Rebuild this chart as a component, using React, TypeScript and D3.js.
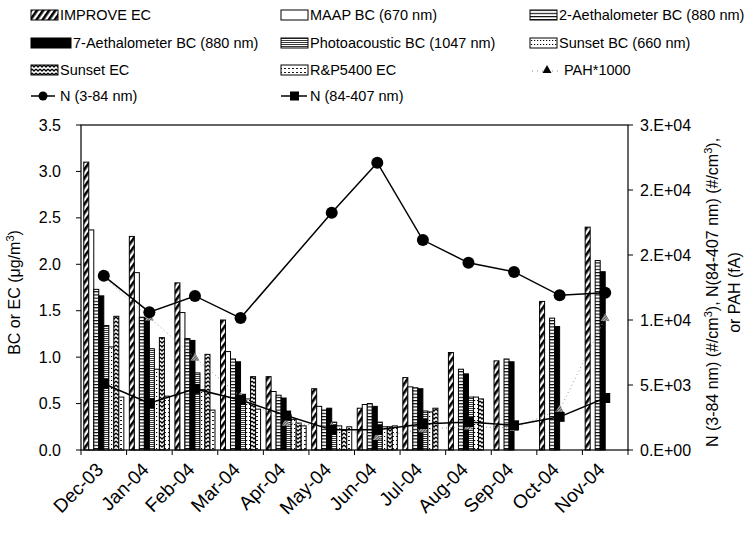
import React from 'react';
import * as d3 from 'd3';

const months = ["Dec-03","Jan-04","Feb-04","Mar-04","Apr-04","May-04","Jun-04","Jul-04","Aug-04","Sep-04","Oct-04","Nov-04"];
const improveEC = [3.10, 2.30, 1.80, 1.40, 0.79, 0.66, 0.45, 0.78, 1.05, 0.96, 1.60, 2.40];
const maapBC = [2.37, 1.91, 1.48, 1.06, 0.63, 0.47, 0.49, 0.68, null, null, null, null];
const aeth2BC = [1.73, 1.43, 1.20, 0.98, 0.59, 0.43, 0.50, 0.67, 0.87, 0.98, 1.42, 2.04];
const aeth7BC = [1.66, 1.42, 1.18, 0.95, 0.56, 0.45, 0.47, 0.66, 0.82, 0.95, 1.33, 1.92];
const photoBC = [1.34, 1.09, 0.83, 0.60, 0.38, 0.30, 0.30, 0.42, 0.57, null, null, null];
const sunsetBC = [1.11, 0.87, 0.65, 0.55, 0.33, 0.26, 0.25, 0.41, 0.57, null, null, null];
const sunsetEC = [1.44, 1.21, 1.03, 0.79, 0.29, 0.21, 0.25, 0.45, 0.55, null, null, null];
const rpEC = [0.57, 0.58, 0.43, 0.44, 0.26, 0.25, 0.26, null, null, null, null, null];

const n3to84 = [13400, 10600, 11850, 10150, null, 18250, 22100, 16150, 14400, 13700, 11900, 12100];
const n84to407 = [5100, 3600, 4700, 3850, 2650, 1550, 1550, 2000, 2150, 1900, 2550, 4000];
const pah1000 = [13300, 10200, 7100, 4100, 2100, 1800, 1000, 1600, 1800, 1700, 3100, 10150];

const leftTicks = [0, 0.5, 1.0, 1.5, 2.0, 2.5, 3.0, 3.5];
const rightTicks = [0, 5000, 10000, 15000, 20000, 25000];
const rightTickLabels = ["0.E+00", "5.E+03", "1.E+04", "2.E+04", "2.E+04", "3.E+04"];

const barNames = ["IMPROVE EC", "MAAP BC (670 nm)", "2-Aethalometer BC (880 nm)", "7-Aethalometer BC (880 nm)", "Photoacoustic BC (1047 nm)", "Sunset BC (660 nm)", "Sunset EC", "R&P5400 EC"];
const barData = [improveEC, maapBC, aeth2BC, aeth7BC, photoBC, sunsetBC, sunsetEC, rpEC];
const barFills = ["url(#pDiag)", "#fff", "url(#pHoriz)", "#000", "url(#pDense)", "url(#pDot)", "url(#pWave)", "url(#pDash)"];

const W = 754, H = 537;
const L = 81, R = 628, T = 125, B = 450;
const FONT = "'Liberation Sans', Arial, sans-serif";

export default function App() {
  const x = d3.scaleBand<string>().domain(months).range([L, R]).paddingInner(0).paddingOuter(0);
  const xs = d3.scaleBand<string>().domain(barNames).range([0, x.bandwidth()]).paddingInner(0).paddingOuter(0.55);
  const yL = d3.scaleLinear().domain([0, 3.5]).range([B, T]);
  const yR = d3.scaleLinear().domain([0, 25000]).range([B, T]);
  const cx = (m: string) => (x(m) as number) + x.bandwidth() / 2;

  const mkLine = (vals: (number | null)[]) => {
    const pts = months.map((m, i) => [cx(m), vals[i]] as [number, number | null]).filter(p => p[1] != null) as [number, number][];
    return d3.line<[number, number]>().x(p => p[0]).y(p => yR(p[1]))(pts) || "";
  };

  const legendCols = [31, 281, 530];
  const legendRows = [15, 43, 70, 96];
  const legendItems: { name: string; kind: string; fill?: string }[] = [
    ...barNames.map((n, i) => ({ name: n, kind: "bar", fill: barFills[i] })),
    { name: "PAH*1000", kind: "tri" },
    { name: "N (3-84 nm)", kind: "circ" },
    { name: "N (84-407 nm)", kind: "sq" },
  ];

  const tri = (px: number, py: number, s: number) => `M${px},${py - s}L${px + s * 0.9},${py + s * 0.6}L${px - s * 0.9},${py + s * 0.6}Z`;

  return (
    <svg width={W} height={H} style={{ position: 'absolute', left: 0, top: 0, background: '#fff' }} fontFamily={FONT}>
      <defs>
        <pattern id="pDiag" width="5" height="5" patternUnits="userSpaceOnUse" patternTransform="rotate(35)">
          <rect width="5" height="5" fill="#fff" />
          <rect x="0" y="0" width="2.6" height="5" fill="#000" />
        </pattern>
        <pattern id="pHoriz" width="4" height="3.2" patternUnits="userSpaceOnUse">
          <rect width="4" height="3.2" fill="#fff" />
          <rect x="0" y="0" width="4" height="1.1" fill="#000" />
        </pattern>
        <pattern id="pDense" width="4" height="2" patternUnits="userSpaceOnUse">
          <rect width="4" height="2" fill="#fff" />
          <rect x="0" y="0" width="4" height="0.9" fill="#222" />
        </pattern>
        <pattern id="pDot" width="3" height="4" patternUnits="userSpaceOnUse">
          <rect width="3" height="4" fill="#fff" />
          <rect x="0" y="0" width="1.2" height="1" fill="#000" />
        </pattern>
        <pattern id="pWave" width="4" height="4" patternUnits="userSpaceOnUse">
          <rect width="4" height="4" fill="#fff" />
          <path d="M0,1 L2,3 L4,1" stroke="#000" strokeWidth="1.3" fill="none" />
        </pattern>
        <pattern id="pDash" width="4" height="4" patternUnits="userSpaceOnUse">
          <rect width="4" height="4" fill="#fff" />
          <rect x="0" y="0" width="2" height="0.9" fill="#000" />
        </pattern>
        <pattern id="pTri" width="2" height="2" patternUnits="userSpaceOnUse" patternTransform="rotate(45)">
          <rect width="2" height="2" fill="#bbb" />
          <rect width="1" height="2" fill="#555" />
        </pattern>
      </defs>

      {/* Legend */}
      {legendItems.map((it, i) => {
        const col = i % 3, row = Math.floor(i / 3);
        const lx = legendCols[col], ly = legendRows[row];
        const iw = it.name.startsWith("7-") ? 40 : 27;
        let tx = lx + iw + 2;
        if (it.kind === "tri") tx = lx + 34;
        if (it.kind === "circ" || it.kind === "sq") tx = lx + 29;
        return (
          <g key={it.name}>
            {it.kind === "bar" && <rect x={lx} y={ly - 5} width={iw} height={10} fill={it.fill} stroke="#000" strokeWidth={1} />}
            {it.kind === "tri" && <g>
              <line x1={lx + 2} x2={lx + 30} y1={ly + 1} y2={ly + 1} stroke="#888" strokeWidth={1} strokeDasharray="1,4" />
              <path d={tri(lx + 17, ly, 5)} fill="#000" />
            </g>}
            {it.kind === "circ" && <g>
              <line x1={lx} x2={lx + 24} y1={ly} y2={ly} stroke="#000" strokeWidth={1.5} />
              <circle cx={lx + 12} cy={ly} r={4.5} fill="#000" />
            </g>}
            {it.kind === "sq" && <g>
              <line x1={lx} x2={lx + 26} y1={ly} y2={ly} stroke="#000" strokeWidth={1.5} />
              <rect x={lx + 9} y={ly - 4.5} width={9} height={9} fill="#000" />
            </g>}
            <text x={tx} y={ly} dy="0.35em" fontSize={14.5} fill="#000">{it.name}</text>
          </g>
        );
      })}

      {/* Bars */}
      {barData.map((series, si) => (
        <g key={barNames[si]}>
          {months.map((m, mi) => {
            const v = series[mi];
            if (v == null) return null;
            const bx = (x(m) as number) + (xs(barNames[si]) as number);
            return <rect key={m} x={bx} y={yL(v)} width={xs.bandwidth()} height={B - yL(v)} fill={barFills[si]} stroke="#000" strokeWidth={1} />;
          })}
        </g>
      ))}

      {/* Plot frame */}
      <rect x={L} y={T} width={R - L} height={B - T} fill="none" stroke="#000" strokeWidth={1.2} />

      {/* Left axis */}
      {leftTicks.map(t => (
        <g key={t}>
          <line x1={L - 5} x2={L} y1={yL(t)} y2={yL(t)} stroke="#000" />
          <text x={L - 20} y={yL(t)} dy="0.35em" textAnchor="end" fontSize={16}>{t.toFixed(1)}</text>
        </g>
      ))}
      {/* Right axis */}
      {rightTicks.map((t, i) => (
        <g key={t}>
          <line x1={R} x2={R + 5} y1={yR(t)} y2={yR(t)} stroke="#000" />
          <text x={R + 12} y={yR(t)} dy="0.35em" textAnchor="start" fontSize={16}>{rightTickLabels[i]}</text>
        </g>
      ))}
      {/* Bottom ticks */}
      {months.map(m => (
        <line key={m} x1={x(m) as number} x2={x(m) as number} y1={B} y2={B + 5} stroke="#000" />
      ))}
      <line x1={R} x2={R} y1={B} y2={B + 5} stroke="#000" />
      {months.map(m => (
        <text key={m} transform={`translate(${cx(m) - 4},${B + 16}) rotate(-45)`} textAnchor="end" fontSize={19} dy="0.35em">{m}</text>
      ))}

      {/* Lines */}
      <path d={mkLine(pah1000)} fill="none" stroke="#999" strokeWidth={1} strokeDasharray="1,3" />
      {months.map((m, i) => pah1000[i] != null && (
        <path key={m} d={tri(cx(m), yR(pah1000[i] as number), 5)} fill="url(#pTri)" />
      ))}
      <path d={mkLine(n84to407)} fill="none" stroke="#000" strokeWidth={1.5} />
      {months.map((m, i) => n84to407[i] != null && (
        <rect key={m} x={cx(m) - 5} y={yR(n84to407[i] as number) - 5} width={10} height={10} fill="#000" />
      ))}
      <path d={mkLine(n3to84)} fill="none" stroke="#000" strokeWidth={1.5} />
      {months.map((m, i) => n3to84[i] != null && (
        <circle key={m} cx={cx(m)} cy={yR(n3to84[i] as number)} r={6} fill="#000" />
      ))}

      {/* Axis titles */}
      <text transform={`translate(20,${(T + B) / 2 + 5}) rotate(-90)`} textAnchor="middle" fontSize={16}>
        BC or EC (μg/m<tspan dy="-6" fontSize={11}>3</tspan><tspan dy="6">)</tspan>
      </text>
      <text transform={`translate(718,${(T + B) / 2 + 5}) rotate(-90)`} textAnchor="middle" fontSize={16}>
        N (3-84 nm) (#/cm<tspan dy="-6" fontSize={11}>3</tspan><tspan dy="6">), N(84-407 nm) (#/cm</tspan><tspan dy="-6" fontSize={11}>3</tspan><tspan dy="6">),</tspan>
      </text>
      <text transform={`translate(740,${(T + B) / 2 + 5}) rotate(-90)`} textAnchor="middle" fontSize={16}>or PAH (fA)</text>
    </svg>
  );
}
